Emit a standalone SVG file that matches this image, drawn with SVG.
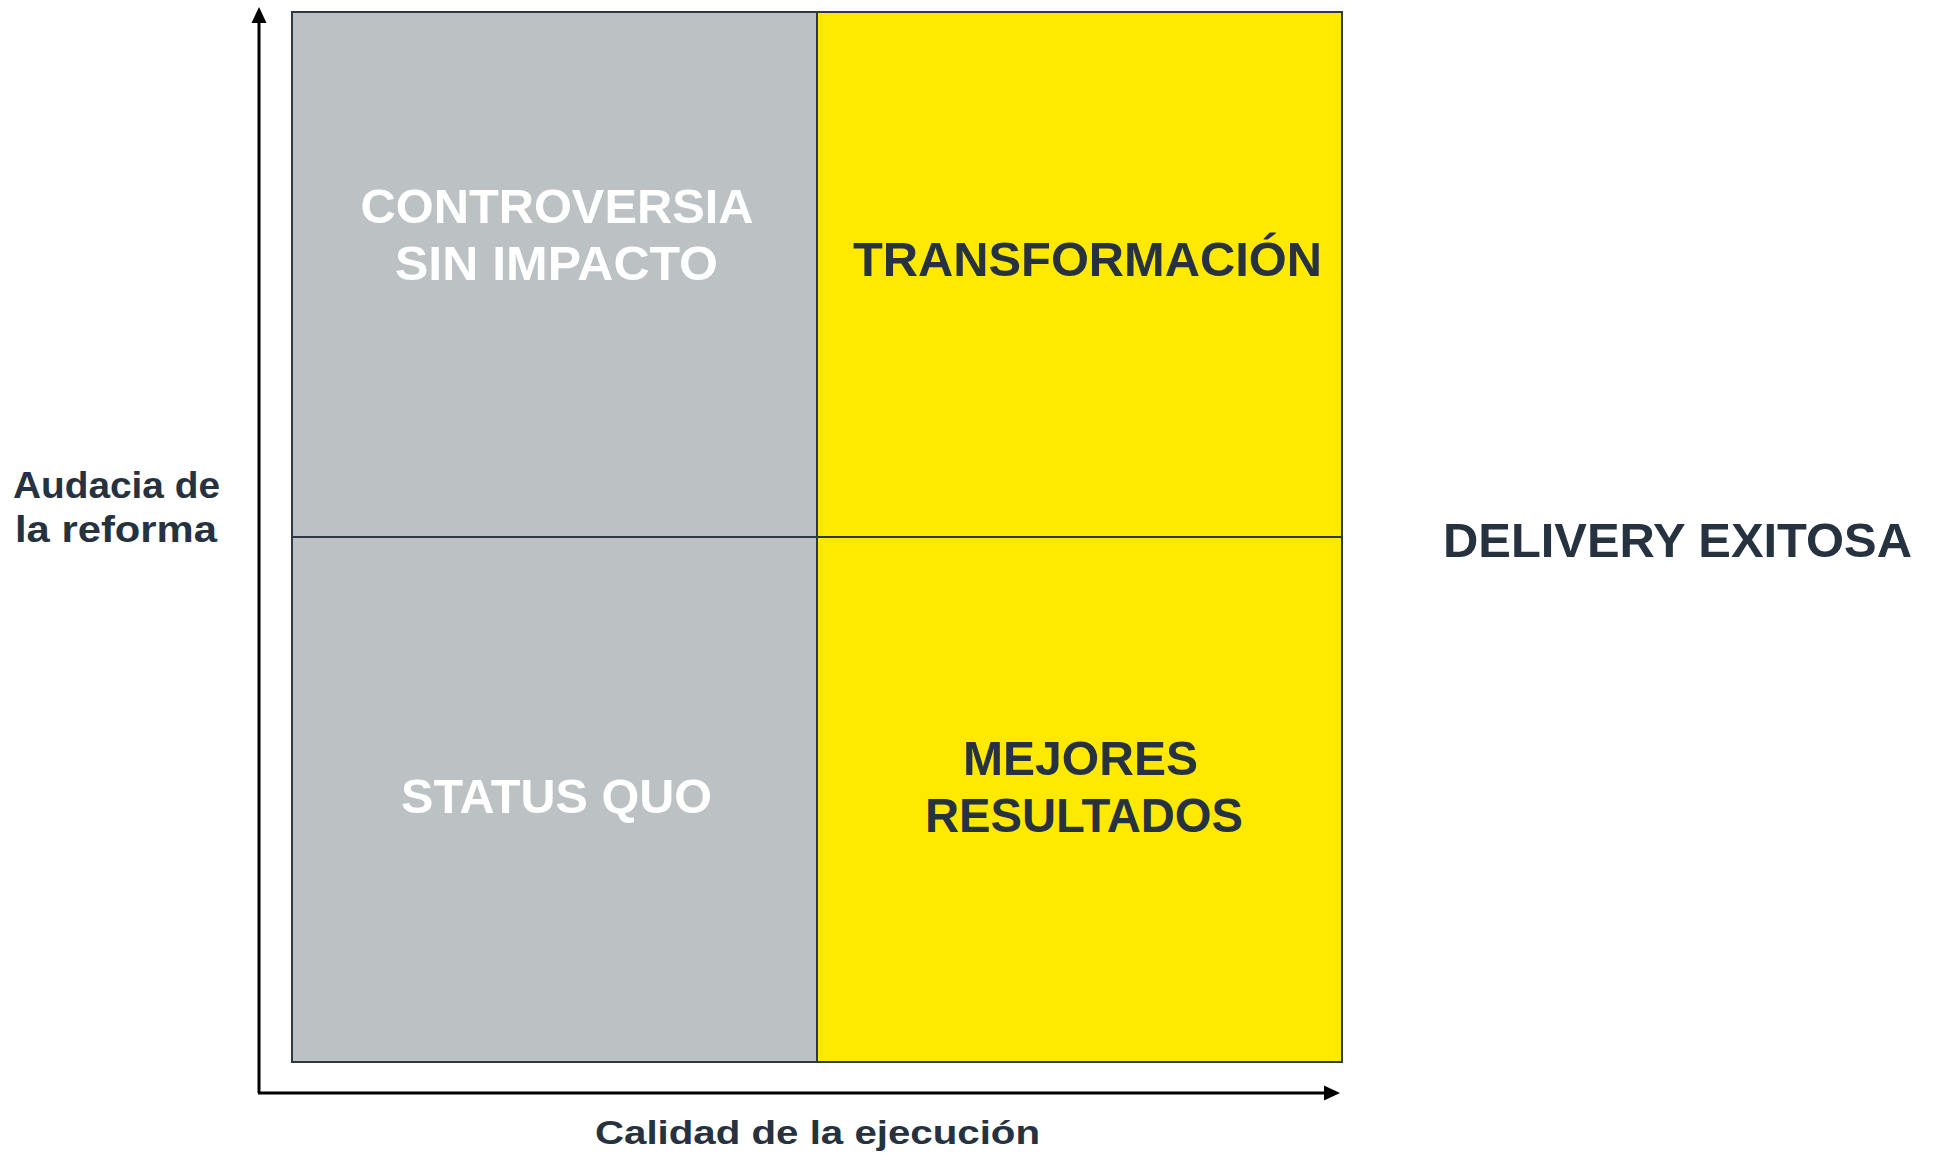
<svg xmlns="http://www.w3.org/2000/svg" width="1934" height="1165" viewBox="0 0 1934 1165">
<style>
.t{font-family:"Liberation Sans",Arial,sans-serif;font-weight:bold}
.dark{fill:#263240}
.white{fill:#ffffff}
.cell{stroke:#2e3945;stroke-width:2}
.axis{stroke:#000;stroke-width:3;fill:none}
</style>
<rect width="1934" height="1165" fill="#ffffff"/>
<g id="q-controversia">
<rect class="cell" x="292" y="12" width="525" height="525" fill="#bcc1c3"/>
<text class="t white" font-size="48" text-anchor="middle" x="557" y="223" textLength="393" lengthAdjust="spacingAndGlyphs">CONTROVERSIA</text>
<text class="t white" font-size="48" text-anchor="middle" x="556.5" y="280" textLength="323" lengthAdjust="spacingAndGlyphs">SIN IMPACTO</text>
</g>
<g id="q-transformacion">
<rect class="cell" x="817" y="12" width="525" height="525" fill="#ffe900"/>
<text class="t dark" font-size="48" text-anchor="middle" x="1087.5" y="276" textLength="469" lengthAdjust="spacingAndGlyphs">TRANSFORMACIÓN</text>
</g>
<g id="q-statusquo">
<rect class="cell" x="292" y="537" width="525" height="525" fill="#bcc1c3"/>
<text class="t white" font-size="48" text-anchor="middle" x="556.5" y="813" textLength="311" lengthAdjust="spacingAndGlyphs">STATUS QUO</text>
</g>
<g id="q-mejores">
<rect class="cell" x="817" y="537" width="525" height="525" fill="#ffe900"/>
<text class="t dark" font-size="48" text-anchor="middle" x="1080.5" y="775" textLength="235" lengthAdjust="spacingAndGlyphs">MEJORES</text>
<text class="t dark" font-size="48" text-anchor="middle" x="1084" y="832" textLength="318" lengthAdjust="spacingAndGlyphs">RESULTADOS</text>
</g>
<g id="connectors">
<line class="axis" x1="259" y1="1093" x2="259" y2="22"/>
<polygon points="259,7 251.5,23 266.5,23" fill="#000"/>
<line class="axis" x1="258" y1="1093" x2="1326" y2="1093"/>
<polygon points="1340,1093 1324,1085.5 1324,1100.5" fill="#000"/>
</g>
<g id="label-y">
<text class="t dark" font-size="37" x="13" y="498" textLength="207" lengthAdjust="spacingAndGlyphs">Audacia de</text>
<text class="t dark" font-size="37" x="15" y="542" textLength="202" lengthAdjust="spacingAndGlyphs">la reforma</text>
</g>
<g id="label-x">
<text class="t dark" font-size="33" x="595" y="1144" textLength="445" lengthAdjust="spacingAndGlyphs">Calidad de la ejecución</text>
</g>
<g id="label-delivery">
<text class="t dark" font-size="48" x="1443" y="557" textLength="469" lengthAdjust="spacingAndGlyphs">DELIVERY EXITOSA</text>
</g>
</svg>
